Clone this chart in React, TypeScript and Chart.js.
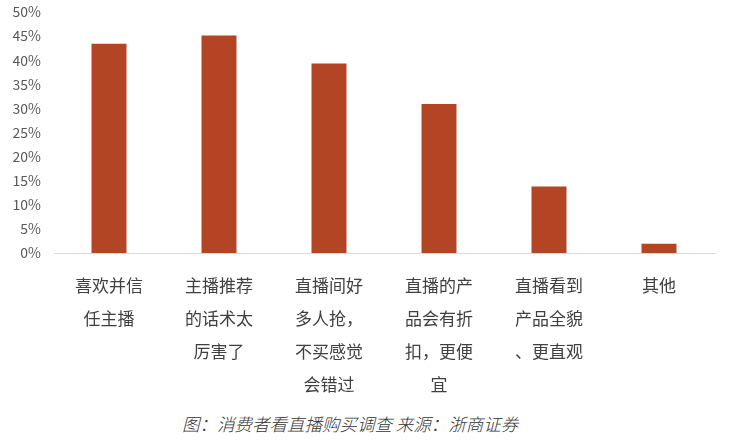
import { useEffect, useRef } from 'react';
import { Chart, registerables } from 'chart.js';

Chart.register(...registerables);

const categories: string[][] = [
  ['喜欢并信', '任主播'],
  ['主播推荐', '的话术太', '厉害了'],
  ['直播间好', '多人抢，', '不买感觉', '会错过'],
  ['直播的产', '品会有折', '扣，更便', '宜'],
  ['直播看到', '产品全貌', '、更直观'],
  ['其他'],
];
const shares = [43.4, 45.1, 39.3, 30.9, 13.8, 1.9];
const caption = '图：消费者看直播购买调查 来源：浙商证券';

const CJK = '"Noto Sans CJK SC", "Noto Sans", sans-serif';

export default function App() {
  const canvasRef = useRef<HTMLCanvasElement>(null);
  const chartRef = useRef<Chart | null>(null);

  useEffect(() => {
    if (!canvasRef.current) return;
    if (chartRef.current) chartRef.current.destroy();

    chartRef.current = new Chart(canvasRef.current, {
      type: 'bar',
      data: {
        labels: categories,
        datasets: [
          {
            data: shares,
            backgroundColor: '#b34525',
            barPercentage: 1,
            categoryPercentage: 0.318,
          },
        ],
      },
      options: {
        animation: false,
        responsive: false,
        layout: { padding: { top: 12, right: 23, left: 0, bottom: 0 } },
        plugins: {
          legend: { display: false },
          tooltip: { enabled: false },
        },
        scales: {
          x: {
            grid: { display: false, drawTicks: false },
            border: { display: true, color: '#d9d9d9', width: 1 },
            ticks: {
              color: '#404040',
              font: { family: CJK, size: 17, lineHeight: 1.95 },
              padding: 16,
              maxRotation: 0,
              autoSkip: false,
            },
            afterFit: (scale) => {
              scale.height = 147;
              scale.paddingTop = 0;
              scale.paddingBottom = 0;
            },
          },
          y: {
            min: 0,
            max: 50,
            ticks: {
              stepSize: 5,
              color: '#595959',
              font: { family: CJK, size: 14 },
              padding: 13,
              callback: (v) => `${v}%`,
            },
            grid: { display: false, drawTicks: false },
            border: { display: false },
            afterFit: (scale) => {
              scale.width = 54;
              scale.paddingTop = 0;
              scale.paddingBottom = 0;
            },
          },
        },
      },
    });

    return () => {
      if (chartRef.current) {
        chartRef.current.destroy();
        chartRef.current = null;
      }
    };
  }, []);

  return (
    <div
      style={{
        position: 'absolute',
        left: 0,
        top: 0,
        width: 737,
        height: 440,
        background: '#ffffff',
        overflow: 'hidden',
      }}
    >
      <canvas ref={canvasRef} width={737} height={400} style={{ display: 'block' }} />
      <div
        style={{
          position: 'absolute',
          left: 182,
          top: 412,
          fontFamily: CJK,
          fontSize: 17.5,
          fontStyle: 'italic',
          fontWeight: 300,
          lineHeight: '24px',
          color: '#333333',
          whiteSpace: 'nowrap',
        }}
      >
        {caption}
      </div>
    </div>
  );
}
